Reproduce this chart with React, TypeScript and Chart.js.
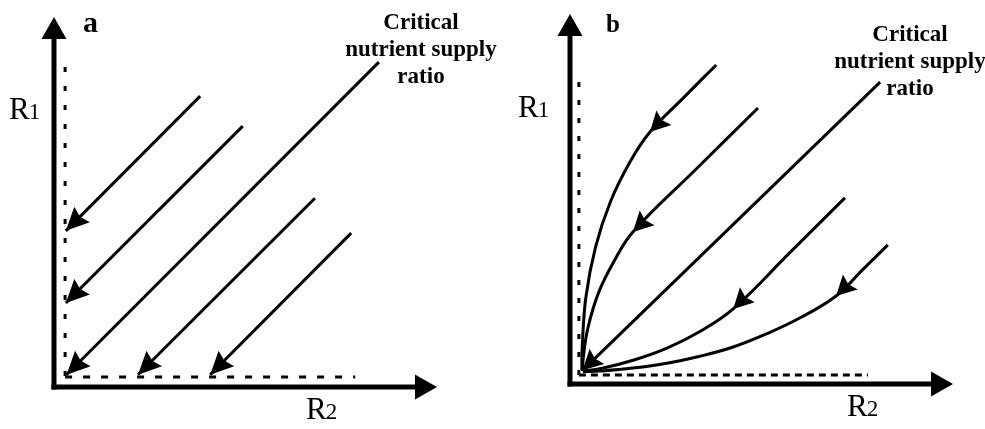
import React, { useEffect, useRef } from "react";
import { Chart, registerables } from "chart.js";

Chart.register(...registerables);

// ---- Scale extents (arbitrary resource units) ----
const X_MAX = 103.5;
const Y_MAX = 100;

// ---- Text ----
const panelLetters = ["a", "b"];
const criticalLabel = ["Critical", "nutrient supply", "ratio"];
const r1Label = ["R", "1"];
const r2Label = ["R", "2"];

// ---- Panel a: (R2, R1) points ----
const aDottedVertical = [[3.0, 3.0], [3.0, 88.4]];
const aDottedHorizontal = [[3.0, 2.7], [81.4, 2.7]];
const aArrow1 = [[39.5, 78.6], [3.2, 42.2]];
const aArrow2 = [[51.0, 70.5], [3.2, 22.7]];
const aCritical = [[87.8, 87.8], [3.4, 3.3]];
const aArrow4 = [[70.5, 51.0], [22.7, 3.3]];
const aArrow5 = [[80.3, 41.6], [42.2, 3.3]];

// ---- Panel b: (R2, R1) points ----
const bDottedVertical = [[2.4, 2.4], [2.4, 84.9]];
const bDottedHorizontal = [[2.4, 2.4], [80.5, 2.4]];
const bCurve1 = [[39.5, 86.2], [30.5, 77.2], [21.6, 68.1], [16.2, 60.0], [10.9, 49.2], [6.9, 37.0], [4.3, 23.5], [3.3, 10.0], [3.2, 3.8]];
const bCurve2 = [[50.8, 74.6], [33.9, 57.9], [17.0, 41.1], [11.8, 33.0], [7.8, 24.9], [4.9, 15.4], [3.6, 7.3], [3.4, 3.5]];
const bCritical = [[83.8, 81.6], [3.4, 3.7]];
const bCurve4 = [[74.3, 50.3], [59.2, 35.3], [44.1, 20.3], [35.1, 14.2], [26.2, 9.7], [17.3, 6.5], [8.4, 4.2], [3.5, 3.5]];
const bCurve5 = [[85.9, 37.6], [78.9, 30.7], [71.9, 23.8], [62.2, 17.9], [53.2, 13.6], [44.1, 10.0], [35.1, 7.5], [26.2, 5.6], [17.0, 4.3], [8.1, 3.5], [3.5, 3.3]];

type Pt = number[];

function solid(pts: Pt[], extra: any = {}) {
  return {
    data: pts.map(([x, y]) => ({ x, y })),
    borderColor: "#000",
    borderWidth: 3,
    pointRadius: 0,
    pointHoverRadius: 0,
    fill: false,
    tension: 0,
    borderCapStyle: "butt",
    borderJoinStyle: "round",
    clip: false,
    ...extra,
  };
}

function dotted(pts: Pt[], dash: number[]) {
  return solid(pts, { borderDash: dash, borderWidth: 3 });
}

function drawHead(ctx: CanvasRenderingContext2D, fx: number, fy: number, tx: number, ty: number, len: number, half: number, notch: number) {
  const dx = tx - fx, dy = ty - fy;
  const d = Math.hypot(dx, dy) || 1;
  const ux = dx / d, uy = dy / d;
  const nx = -uy, ny = ux;
  const bx = tx - ux * len, by = ty - uy * len;
  ctx.beginPath();
  ctx.moveTo(tx, ty);
  ctx.lineTo(bx + nx * half, by + ny * half);
  ctx.lineTo(tx - ux * (len - notch), ty - uy * (len - notch));
  ctx.lineTo(bx - nx * half, by - ny * half);
  ctx.closePath();
  ctx.fill();
}

function drawSubLabel(ctx: CanvasRenderingContext2D, parts: string[], x: number, y: number) {
  ctx.font = "31px 'Liberation Serif', serif";
  ctx.fillText(parts[0], x, y);
  const w = ctx.measureText(parts[0]).width;
  ctx.font = "23px 'Liberation Serif', serif";
  ctx.fillText(parts[1], x + w - 1, y);
}

const diagramPlugin = {
  id: "diagram",
  afterDatasetsDraw(chart: any, _args: any, opts: any) {
    const ctx: CanvasRenderingContext2D = chart.ctx;
    const xs = chart.scales.x, ys = chart.scales.y;
    const ox = xs.getPixelForValue(0), oy = ys.getPixelForValue(0);
    const top = ys.getPixelForValue(Y_MAX), right = xs.getPixelForValue(X_MAX);
    ctx.save();
    ctx.fillStyle = "#000";
    ctx.strokeStyle = "#000";
    // arrowheads on trajectories
    chart.data.datasets.forEach((d: any, i: number) => {
      if (d.arrowAt == null) return;
      const meta = chart.getDatasetMeta(i);
      const p = meta.data[d.arrowAt], q = meta.data[d.arrowAt - 1];
      drawHead(ctx, q.x, q.y, p.x, p.y, opts.headLen, opts.headHalf, opts.headNotch);
    });
    // axes
    const aw = 5, ahLen = 22, ahHalf = 12.5;
    ctx.lineWidth = aw;
    ctx.lineCap = "butt";
    ctx.beginPath();
    ctx.moveTo(ox, oy + aw / 2);
    ctx.lineTo(ox, top + ahLen - 2);
    ctx.stroke();
    ctx.beginPath();
    ctx.moveTo(ox - aw / 2, oy);
    ctx.lineTo(right - ahLen + 2, oy);
    ctx.stroke();
    drawHead(ctx, ox, oy, ox, top, ahLen, ahHalf, 0);
    drawHead(ctx, ox, oy, right, oy, ahLen, ahHalf, 0);
    // labels
    ctx.textBaseline = "alphabetic";
    ctx.textAlign = "left";
    ctx.font = opts.letterFont;
    ctx.fillText(opts.letter, opts.letterX, opts.letterY);
    drawSubLabel(ctx, r1Label, opts.r1X, opts.r1Y);
    drawSubLabel(ctx, r2Label, opts.r2X, opts.r2Y);
    ctx.textAlign = "center";
    ctx.font = "bold 23px 'Liberation Serif', serif";
    criticalLabel.forEach((t, k) => {
      ctx.fillText(t, opts.critX, opts.critY + k * opts.critGap);
    });
    ctx.restore();
  },
};

function makeChart(canvas: HTMLCanvasElement, datasets: any[], padding: any, pluginOpts: any) {
  return new Chart(canvas, {
    type: "line",
    data: { datasets },
    options: {
      animation: false,
      responsive: false,
      events: [],
      layout: { padding },
      scales: {
        x: { type: "linear", min: 0, max: X_MAX, display: false },
        y: { type: "linear", min: 0, max: Y_MAX, display: false },
      },
      plugins: {
        legend: { display: false },
        tooltip: { enabled: false },
        diagram: pluginOpts,
      } as any,
    },
    plugins: [diagramPlugin],
  } as any);
}

export default function App() {
  const refA = useRef<HTMLCanvasElement>(null);
  const refB = useRef<HTMLCanvasElement>(null);

  useEffect(() => {
    const dsA = [
      dotted(aDottedVertical, [5, 14]),
      dotted(aDottedHorizontal, [7, 11]),
      solid(aArrow1, { arrowAt: 1 }),
      solid(aArrow2, { arrowAt: 1 }),
      solid(aCritical, { arrowAt: 1 }),
      solid(aArrow4, { arrowAt: 1 }),
      solid(aArrow5, { arrowAt: 1 }),
    ];
    const dsB = [
      dotted(bDottedVertical, [5, 13]),
      dotted(bDottedHorizontal, [7, 5]),
      solid(bCurve1, { tension: 0.4, arrowAt: 2 }),
      solid(bCurve2, { tension: 0.4, arrowAt: 2 }),
      solid(bCritical, { arrowAt: 1 }),
      solid(bCurve4, { tension: 0.4, arrowAt: 2 }),
      solid(bCurve5, { tension: 0.4, arrowAt: 2 }),
    ];
    const chartA = makeChart(
      refA.current!,
      dsA,
      { left: 54, top: 17, right: 103, bottom: 42 },
      {
        letter: panelLetters[0], letterFont: "bold 30px 'Liberation Serif', serif", letterX: 83, letterY: 32,
        r1X: 9, r1Y: 119, r2X: 306, r2Y: 419,
        critX: 421, critY: 29, critGap: 27,
        headLen: 23, headHalf: 11, headNotch: 3,
      }
    );
    const chartB = makeChart(
      refB.current!,
      dsB,
      { left: 78, top: 14, right: 32, bottom: 45 },
      {
        letter: panelLetters[1], letterFont: "bold 25px 'Liberation Serif', serif", letterX: 114, letterY: 32,
        r1X: 26, r1Y: 117, r2X: 355, r2Y: 416,
        critX: 418, critY: 41, critGap: 27,
        headLen: 20, headHalf: 10.5, headNotch: 3,
      }
    );
    return () => {
      chartA.destroy();
      chartB.destroy();
    };
  }, []);

  return (
    <div style={{ position: "fixed", left: 0, top: 0, width: 985, height: 429, background: "#fff" }}>
      <canvas ref={refA} width={540} height={429} style={{ position: "absolute", left: 0, top: 0 }} />
      <canvas ref={refB} width={493} height={429} style={{ position: "absolute", left: 492, top: 0 }} />
    </div>
  );
}
